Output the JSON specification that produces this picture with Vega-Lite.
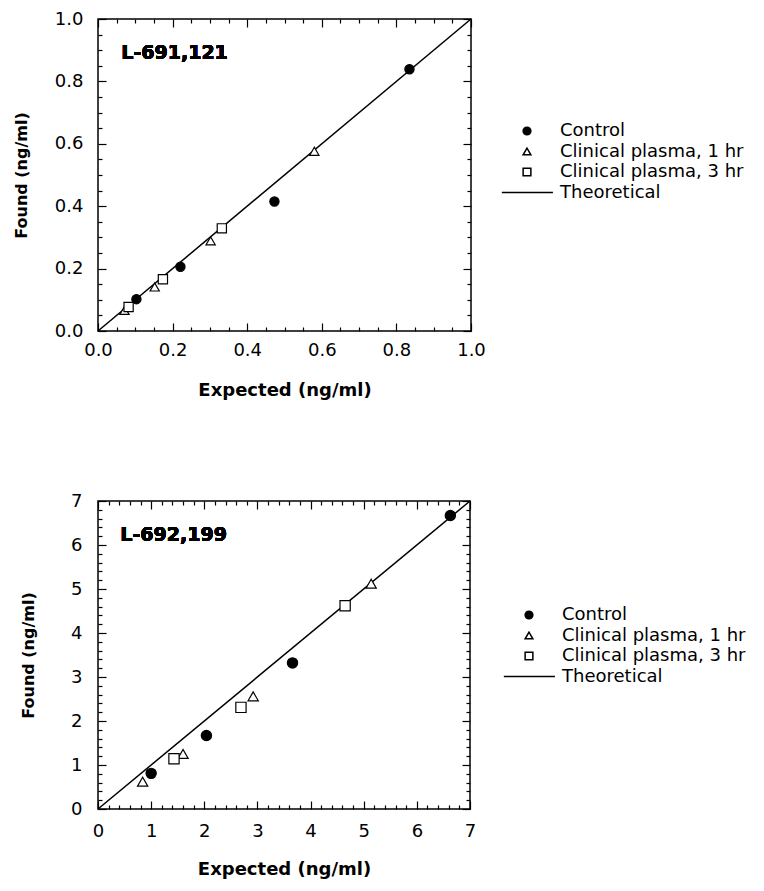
{
  "$schema": "https://vega.github.io/schema/vega-lite/v6.json",
  "padding": {"left": 12, "top": 9, "right": 0, "bottom": 5},
  "background": "white",
  "spacing": 91,
  "config": {
    "font": "DejaVu Sans",
    "view": {"stroke": "black", "strokeWidth": 1.5},
    "axis": {
      "labelFont": "DejaVu Sans", "labelFontSize": 18, "labelColor": "black",
      "titleFont": "DejaVu Sans", "titleFontWeight": "bold", "titleColor": "black", "titleFontSize": 18,
      "domain": false, "grid": false, "ticks": true, "tickColor": "black", "tickWidth": 1.2, "tickOpacity": 1,
      "labelFlush": false, "labelOverlap": false
    },
    "legend": {
      "labelFont": "DejaVu Sans", "labelFontSize": 18, "labelColor": "black", "padding": 0, "labelLimit": 400
    }
  },
  "resolve": {
    "scale": {"x": "independent", "y": "independent", "shape": "independent", "fill": "independent"},
    "legend": {"shape": "independent", "fill": "independent"}
  },
  "vconcat": [
    {
      "width": 373,
      "height": 312,
      "data": {"values": [
        {"series": "Control", "expected": 0.103, "found": 0.102},
        {"series": "Control", "expected": 0.221, "found": 0.206},
        {"series": "Control", "expected": 0.473, "found": 0.415},
        {"series": "Control", "expected": 0.835, "found": 0.839},
        {"series": "Clinical plasma, 1 hr", "expected": 0.071, "found": 0.066},
        {"series": "Clinical plasma, 1 hr", "expected": 0.152, "found": 0.141},
        {"series": "Clinical plasma, 1 hr", "expected": 0.302, "found": 0.289},
        {"series": "Clinical plasma, 1 hr", "expected": 0.580, "found": 0.576},
        {"series": "Clinical plasma, 3 hr", "expected": 0.082, "found": 0.077},
        {"series": "Clinical plasma, 3 hr", "expected": 0.174, "found": 0.166},
        {"series": "Clinical plasma, 3 hr", "expected": 0.332, "found": 0.329},
        {"series": "Theoretical", "expected": 0, "found": 0},
        {"series": "Theoretical", "expected": 1, "found": 1}
      ]},
      "resolve": {"axis": {"x": "independent", "y": "independent"}},
      "layer": [
        {
          "transform": [{"filter": "datum.series === 'Theoretical'"}],
          "mark": {"type": "line", "color": "black", "strokeWidth": 1.5},
          "encoding": {
            "x": {"field": "expected", "type": "quantitative",
              "scale": {"domain": [0, 1], "nice": false, "zero": false},
              "axis": {"orient": "bottom", "title": "Expected  (ng/ml)", "format": ".1f",
                "values": [0, 0.2, 0.4, 0.6, 0.8, 1], "tickSize": 8, "offset": -8,
                "labelPadding": 10, "titlePadding": 22}},
            "y": {"field": "found", "type": "quantitative",
              "scale": {"domain": [0, 1], "nice": false, "zero": false},
              "axis": {"orient": "left", "title": "Found (ng/ml)", "titleFontSize": 16, "format": ".1f",
                "values": [0, 0.2, 0.4, 0.6, 0.8, 1], "tickSize": 8, "offset": -8,
                "labelPadding": 15, "titlePadding": 25}}
          }
        },
        {
          "transform": [{"filter": "datum.series === 'Theoretical'"}],
          "mark": {"type": "line", "strokeOpacity": 0},
          "encoding": {
            "x": {"field": "expected", "type": "quantitative",
              "axis": {"orient": "bottom", "title": null, "labels": false, "tickSize": 4, "offset": -4,
                "values": [0.05, 0.1, 0.15, 0.25, 0.3, 0.35, 0.45, 0.5, 0.55, 0.65, 0.7, 0.75, 0.85, 0.9, 0.95]}},
            "y": {"field": "found", "type": "quantitative",
              "axis": {"orient": "left", "title": null, "labels": false, "tickSize": 4, "offset": -4,
                "values": [0.05, 0.1, 0.15, 0.25, 0.3, 0.35, 0.45, 0.5, 0.55, 0.65, 0.7, 0.75, 0.85, 0.9, 0.95]}}
          }
        },
        {
          "transform": [{"filter": "datum.series === 'Theoretical'"}],
          "mark": {"type": "line", "strokeOpacity": 0},
          "encoding": {
            "x": {"field": "expected", "type": "quantitative",
              "axis": {"orient": "top", "title": null, "labels": false, "tickSize": 4, "offset": -4,
                "values": [0.05, 0.1, 0.15, 0.25, 0.3, 0.35, 0.45, 0.5, 0.55, 0.65, 0.7, 0.75, 0.85, 0.9, 0.95]}},
            "y": {"field": "found", "type": "quantitative",
              "axis": {"orient": "right", "title": null, "labels": false, "tickSize": 4, "offset": -4,
                "values": [0.05, 0.1, 0.15, 0.25, 0.3, 0.35, 0.45, 0.5, 0.55, 0.65, 0.7, 0.75, 0.85, 0.9, 0.95]}}
          }
        },
        {
          "transform": [{"filter": "datum.series !== 'Theoretical'"}],
          "mark": {"type": "point", "filled": true, "stroke": "black", "strokeWidth": 1.2, "size": 85, "opacity": 1},
          "encoding": {
            "x": {"field": "expected", "type": "quantitative",
              "axis": {"orient": "top", "title": null, "labels": false, "tickSize": 8, "offset": -8,
                "values": [0, 0.2, 0.4, 0.6, 0.8, 1]}},
            "y": {"field": "found", "type": "quantitative",
              "axis": {"orient": "right", "title": null, "labels": false, "tickSize": 8, "offset": -8,
                "values": [0, 0.2, 0.4, 0.6, 0.8, 1]}},
            "shape": {"field": "series", "type": "nominal",
              "scale": {"domain": ["Control", "Clinical plasma, 1 hr", "Clinical plasma, 3 hr", "Theoretical"],
                "range": ["circle", "triangle-up", "square", "M-6.5,0H6.7"]},
              "legend": {"orient": "none", "legendX": 420, "legendY": 103, "title": null, "symbolSize": 60, "labelOffset": 24, "rowPadding": 2.5,
                "encode": {"symbols": {"update": {"stroke": {"value": "black"}, "strokeWidth": {"value": 1.2}}}}}},
            "fill": {"field": "series", "type": "nominal",
              "scale": {"domain": ["Control", "Clinical plasma, 1 hr", "Clinical plasma, 3 hr", "Theoretical"],
                "range": ["black", "white", "white", "white"]},
              "legend": {"orient": "none", "legendX": 420, "legendY": 103, "title": null, "symbolSize": 60, "labelOffset": 24, "rowPadding": 2.5,
                "encode": {"symbols": {"update": {"stroke": {"value": "black"}, "strokeWidth": {"value": 1.2}}}}}}
          }
        },
        {
          "mark": {"type": "text", "text": "L-691,121", "align": "left", "baseline": "middle", "fontSize": 19, "fontWeight": "bold", "font": "DejaVu Sans", "color": "black"},
          "encoding": {
            "x": {"datum": 0.0625, "type": "quantitative", "axis": null},
            "y": {"datum": 0.89, "type": "quantitative", "axis": null}
          }
        }
      ]
    },
    {
      "width": 372,
      "height": 308,
      "data": {"values": [
        {"series": "Control", "expected": 1.00, "found": 0.81},
        {"series": "Control", "expected": 2.04, "found": 1.67},
        {"series": "Control", "expected": 3.66, "found": 3.32},
        {"series": "Control", "expected": 6.63, "found": 6.67},
        {"series": "Clinical plasma, 1 hr", "expected": 0.84, "found": 0.62},
        {"series": "Clinical plasma, 1 hr", "expected": 1.60, "found": 1.25},
        {"series": "Clinical plasma, 1 hr", "expected": 2.92, "found": 2.56},
        {"series": "Clinical plasma, 1 hr", "expected": 5.14, "found": 5.12},
        {"series": "Clinical plasma, 3 hr", "expected": 1.43, "found": 1.14},
        {"series": "Clinical plasma, 3 hr", "expected": 2.69, "found": 2.31},
        {"series": "Clinical plasma, 3 hr", "expected": 4.65, "found": 4.62},
        {"series": "Theoretical", "expected": 0, "found": 0},
        {"series": "Theoretical", "expected": 7, "found": 7}
      ]},
      "resolve": {"axis": {"x": "independent", "y": "independent"}},
      "layer": [
        {
          "transform": [{"filter": "datum.series === 'Theoretical'"}],
          "mark": {"type": "line", "color": "black", "strokeWidth": 1.5},
          "encoding": {
            "x": {"field": "expected", "type": "quantitative",
              "scale": {"domain": [0, 7], "nice": false, "zero": false},
              "axis": {"orient": "bottom", "title": "Expected  (ng/ml)", "format": "d",
                "values": [0, 1, 2, 3, 4, 5, 6, 7], "tickSize": 8, "offset": -8,
                "labelPadding": 13, "titlePadding": 20}},
            "y": {"field": "found", "type": "quantitative",
              "scale": {"domain": [0, 7], "nice": false, "zero": false},
              "axis": {"orient": "left", "title": "Found (ng/ml)", "titleFontSize": 16, "format": "d",
                "values": [0, 1, 2, 3, 4, 5, 6, 7], "tickSize": 8, "offset": -8,
                "labelPadding": 16, "titlePadding": 34}}
          }
        },
        {
          "transform": [{"filter": "datum.series === 'Theoretical'"}],
          "mark": {"type": "line", "strokeOpacity": 0},
          "encoding": {
            "x": {"field": "expected", "type": "quantitative",
              "axis": {"orient": "bottom", "title": null, "labels": false, "tickSize": 4, "offset": -4,
                "values": [0.2, 0.4, 0.6, 0.8, 1.2, 1.4, 1.6, 1.8, 2.2, 2.4, 2.6, 2.8, 3.2, 3.4, 3.6, 3.8, 4.2, 4.4, 4.6, 4.8, 5.2, 5.4, 5.6, 5.8, 6.2, 6.4, 6.6, 6.8]}},
            "y": {"field": "found", "type": "quantitative",
              "axis": {"orient": "left", "title": null, "labels": false, "tickSize": 4, "offset": -4,
                "values": [0.2, 0.4, 0.6, 0.8, 1.2, 1.4, 1.6, 1.8, 2.2, 2.4, 2.6, 2.8, 3.2, 3.4, 3.6, 3.8, 4.2, 4.4, 4.6, 4.8, 5.2, 5.4, 5.6, 5.8, 6.2, 6.4, 6.6, 6.8]}}
          }
        },
        {
          "transform": [{"filter": "datum.series === 'Theoretical'"}],
          "mark": {"type": "line", "strokeOpacity": 0},
          "encoding": {
            "x": {"field": "expected", "type": "quantitative",
              "axis": {"orient": "top", "title": null, "labels": false, "tickSize": 4, "offset": -4,
                "values": [0.2, 0.4, 0.6, 0.8, 1.2, 1.4, 1.6, 1.8, 2.2, 2.4, 2.6, 2.8, 3.2, 3.4, 3.6, 3.8, 4.2, 4.4, 4.6, 4.8, 5.2, 5.4, 5.6, 5.8, 6.2, 6.4, 6.6, 6.8]}},
            "y": {"field": "found", "type": "quantitative",
              "axis": {"orient": "right", "title": null, "labels": false, "tickSize": 4, "offset": -4,
                "values": [0.2, 0.4, 0.6, 0.8, 1.2, 1.4, 1.6, 1.8, 2.2, 2.4, 2.6, 2.8, 3.2, 3.4, 3.6, 3.8, 4.2, 4.4, 4.6, 4.8, 5.2, 5.4, 5.6, 5.8, 6.2, 6.4, 6.6, 6.8]}}
          }
        },
        {
          "transform": [{"filter": "datum.series !== 'Theoretical'"}],
          "mark": {"type": "point", "filled": true, "stroke": "black", "strokeWidth": 1.2, "size": 105, "opacity": 1},
          "encoding": {
            "x": {"field": "expected", "type": "quantitative",
              "axis": {"orient": "top", "title": null, "labels": false, "tickSize": 8, "offset": -8,
                "values": [0, 1, 2, 3, 4, 5, 6, 7]}},
            "y": {"field": "found", "type": "quantitative",
              "axis": {"orient": "right", "title": null, "labels": false, "tickSize": 8, "offset": -8,
                "values": [0, 1, 2, 3, 4, 5, 6, 7]}},
            "shape": {"field": "series", "type": "nominal",
              "scale": {"domain": ["Control", "Clinical plasma, 1 hr", "Clinical plasma, 3 hr", "Theoretical"],
                "range": ["circle", "triangle-up", "square", "M-6.5,0H6.7"]},
              "legend": {"orient": "none", "legendX": 422, "legendY": 105, "title": null, "symbolSize": 60, "labelOffset": 24, "rowPadding": 2.5,
                "encode": {"symbols": {"update": {"stroke": {"value": "black"}, "strokeWidth": {"value": 1.2}}}}}},
            "fill": {"field": "series", "type": "nominal",
              "scale": {"domain": ["Control", "Clinical plasma, 1 hr", "Clinical plasma, 3 hr", "Theoretical"],
                "range": ["black", "white", "white", "white"]},
              "legend": {"orient": "none", "legendX": 422, "legendY": 105, "title": null, "symbolSize": 60, "labelOffset": 24, "rowPadding": 2.5,
                "encode": {"symbols": {"update": {"stroke": {"value": "black"}, "strokeWidth": {"value": 1.2}}}}}}
          }
        },
        {
          "mark": {"type": "text", "text": "L-692,199", "align": "left", "baseline": "middle", "fontSize": 19, "fontWeight": "bold", "font": "DejaVu Sans", "color": "black"},
          "encoding": {
            "x": {"datum": 0.42, "type": "quantitative", "axis": null},
            "y": {"datum": 6.23, "type": "quantitative", "axis": null}
          }
        }
      ]
    }
  ]
}
